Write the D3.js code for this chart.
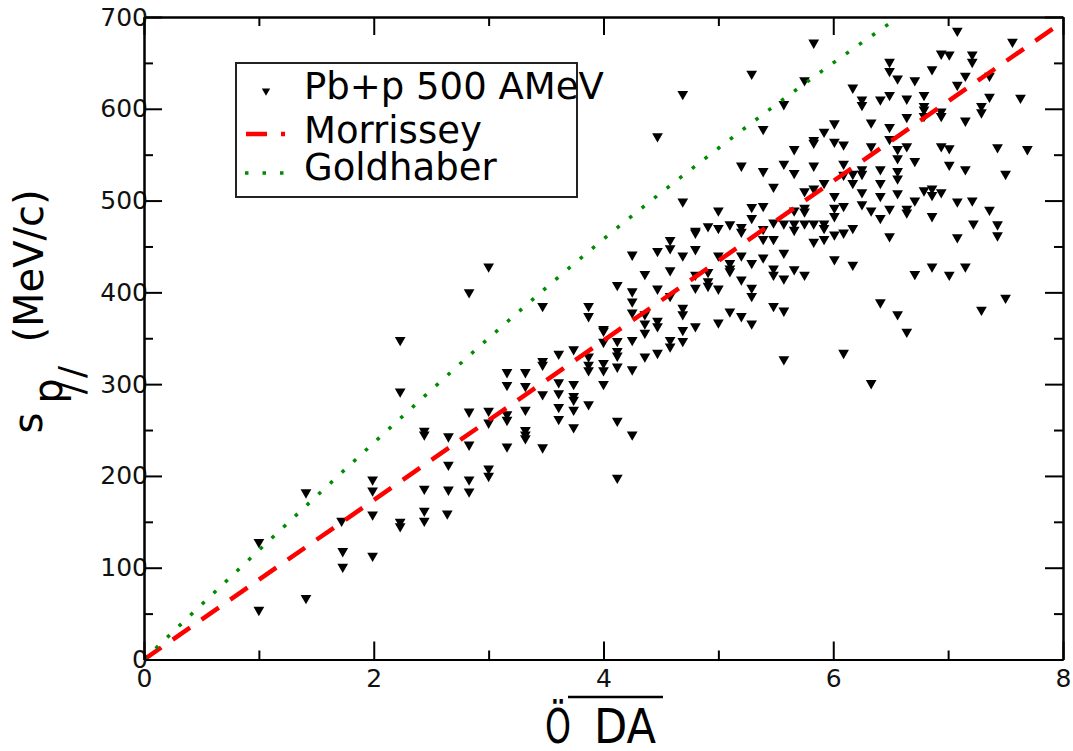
<!DOCTYPE html>
<html><head><meta charset="utf-8">
<script src="https://cdn.jsdelivr.net/npm/d3@7"></script>
<style>body{margin:0;background:#fff}svg{display:block}</style>
</head><body><svg id="c" width="1073" height="751"></svg>
<script>
// ---- data ----
const pointsX = [
2.23,2.23,2.44,2.44,1.41,1.99,1.99,2.44,1.72,1.99,2.23,2.23,2.44,2.44,1.0,1.73,1.73,1.99,1.41,1.0,2.64,
3.0,2.83,4.25,3.47,3.87,3.87,4.12,4.36,4.25,4.25,4.25,4.36,4.36,4.36,4.0,4.0,4.12,4.0,4.25,4.12,4.12,3.87,3.87,3.87,4.0,4.0,4.12,4.25,4.36,4.0,3.74,3.61,3.47,3.47,3.61,3.74,3.61,3.74,3.74,3.74,3.61,3.87,3.61,3.74,4.12,4.25,4.12,3.47,3.32,3.16,3.16,3.32,3.32,3.16,3.16,3.0,3.0,2.83,3.32,3.32,3.32,3.16,3.47,3.0,3.0,2.83,2.83,2.83,2.65,2.65,2.65,4.47,
7.08,5.83,7.56,6.94,7.01,7.21,7.21,6.49,6.49,6.86,5.29,6.56,6.71,7.15,7.36,7.08,5.75,4.69,6.17,6.49,6.79,6.25,6.25,6.41,6.64,7.36,7.63,5.57,6.79,6.79,7.29,7.29,6.94,6.94,6.79,6.64,6.33,7.15,6.01,5.92,5.39,4.47,6.49,5.83,5.83,6.01,6.09,5.66,6.33,6.49,6.56,6.56,6.64,6.94,7.01,7.43,7.69,6.71,7.01,7.15,7.5,5.2,5.39,5.57,5.66,5.83,6.09,6.09,6.17,6.17,6.25,6.25,6.41,6.56,6.56,6.41,5.92,5.48,4.69,5.75,5.83,6.01,6.25,6.41,6.56,6.79,6.86,6.86,6.94,6.71,7.08,7.21,7.36,5.0,5.29,5.29,5.39,5.66,5.75,5.75,6.01,6.01,6.09,6.25,6.33,6.41,6.49,6.64,6.64,6.86,7.22,7.43,7.43,7.08,6.49,6.17,6.09,6.01,5.92,5.92,5.83,5.75,5.66,5.66,5.57,5.48,5.39,5.2,5.2,5.1,5.0,4.91,4.8,4.8,5.83,5.92,5.48,5.39,4.58,4.58,4.47,4.69,4.8,5.0,5.1,5.1,5.1,5.2,5.29,5.39,5.57,4.58,4.91,4.91,4.91,4.8,4.8,5.0,5.2,5.29,5.29,5.48,5.48,5.57,5.66,5.75,4.47,4.47,4.47,4.58,4.69,4.69,4.69,4.69,4.58,4.58,4.8,5.0,5.1,5.2,5.29,5.48,5.57,6.01,6.17,6.41,6.56,6.64,6.71,6.86,7.01,7.15,7.29,7.5,
5.57,6.09,6.33];
const pointsY = [
348,292,249,245,182,196,184,186,151,158,150,145,162,151,128,118,101,113,67,54,159,
428,400,441,385,385,374,408,420,401,390,378,376,366,356,360,358,347,346,348,336,331,330,321,315,323,315,319,316,330,300,338,333,325,321,302,300,290,287,283,272,275,278,262,253,260,245,198,289,313,313,299,298,272,267,261,271,258,270,250,245,241,232,231,208,200,234,196,183,243,212,185,334,
685,672,673,660,659,659,651,651,641,643,638,633,631,636,636,626,631,616,623,615,615,610,604,610,611,613,612,605,603,599,603,596,597,592,592,591,585,587,584,575,578,570,580,566,563,564,561,556,559,567,556,546,559,559,557,558,556,543,539,534,529,538,532,540,530,538,540,528,529,519,534,529,534,532,524,519,519,515,499,510,513,505,509,505,508,511,513,506,509,500,499,500,490,489,493,481,494,489,492,488,492,483,494,496,489,481,491,491,487,483,475,474,462,460,461,470,465,463,475,470,475,475,475,468,475,476,469,471,466,474,470,472,467,465,455,458,458,458,457,448,445,440,447,440,432,426,423,440,432,438,443,424,422,412,407,419,405,404,414,405,396,426,419,415,425,419,404,369,363,396,383,376,359,347,348,341,363,367,379,374,366,385,380,436,430,389,376,357,420,428,419,428,381,394,
327,334,301];

const morrisseyX = [0, 8];
const morrisseyY = [0, 695];
const goldhaberX = [0, 1, 2, 3, 4, 5, 6, 6.57];
const goldhaberY = [0, 119, 236, 350, 458, 557, 650, 700];

const xMajorTicks = [0, 2, 4, 6, 8];
const xMinorTicks = [1, 3, 5, 7];
const yMajorTicks = [0, 100, 200, 300, 400, 500, 600, 700];
const yMinorTicks = [50, 150, 250, 350, 450, 550, 650];
const legendLabels = ["Pb+p 500 AMeV", "Morrissey", "Goldhaber"];

// ---- layout ----
const svg = d3.select("#c");
const L = 144, R = 1063, T = 17, B = 659.5;
const x = d3.scaleLinear().domain([0, 8]).range([L, R]);
const y = d3.scaleLinear().domain([0, 700]).range([B, T]);
const FONT = "DejaVu Sans, sans-serif";

svg.append("defs").append("clipPath").attr("id", "clip")
  .append("rect").attr("x", L).attr("y", T).attr("width", R - L).attr("height", B - T);

// points
const tri = d3.symbol(d3.symbolTriangle, 50);
const pts = d3.zip(pointsX, pointsY);
svg.append("g").selectAll("path").data(pts).join("path")
  .attr("d", tri)
  .attr("transform", d => `translate(${x(d[0])},${y(d[1])}) rotate(180)`)
  .attr("fill", "#000");

// curves
const plot = svg.append("g").attr("clip-path", "url(#clip)");
plot.append("path")
  .attr("d", d3.line().x(d => x(d[0])).y(d => y(d[1]))(d3.zip(morrisseyX, morrisseyY)))
  .attr("fill", "none").attr("stroke", "#ff0000").attr("stroke-width", 4.5)
  .attr("stroke-dasharray", "21,14");
plot.append("path")
  .attr("d", d3.line().curve(d3.curveMonotoneX).x(d => x(d[0])).y(d => y(d[1]))(d3.zip(goldhaberX, goldhaberY)))
  .attr("fill", "none").attr("stroke", "#008b00").attr("stroke-width", 3.5)
  .attr("stroke-dasharray", "3.5,12.5");

// axes
function styleAxis(g) {
  g.selectAll("line").attr("stroke", "#000").attr("stroke-width", 2);
  g.selectAll("path.domain").attr("stroke", "#000").attr("stroke-width", 2);
  g.selectAll("text").attr("font-family", FONT).attr("font-size", 25).attr("fill", "#111");
}
// bottom
svg.append("g").attr("transform", `translate(0,${B})`)
  .call(d3.axisBottom(x).tickValues(xMajorTicks).tickFormat(d3.format("d")).tickSizeInner(-18).tickSizeOuter(0).tickPadding(10))
  .call(styleAxis);
svg.append("g").attr("transform", `translate(0,${B})`)
  .call(d3.axisBottom(x).tickValues(xMinorTicks).tickFormat("").tickSizeInner(-9).tickSizeOuter(0))
  .call(styleAxis);
// top
svg.append("g").attr("transform", `translate(0,${T})`)
  .call(d3.axisTop(x).tickValues(xMajorTicks).tickFormat("").tickSizeInner(-18).tickSizeOuter(0))
  .call(styleAxis);
svg.append("g").attr("transform", `translate(0,${T})`)
  .call(d3.axisTop(x).tickValues(xMinorTicks).tickFormat("").tickSizeInner(-9).tickSizeOuter(0))
  .call(styleAxis);
// left
const gl = svg.append("g").attr("transform", `translate(${L},0)`)
  .call(d3.axisLeft(y).tickValues(yMajorTicks).tickFormat(d3.format("d")).tickSizeInner(-18).tickSizeOuter(0).tickPadding(-4))
  .call(styleAxis);
svg.append("g").attr("transform", `translate(${L},0)`)
  .call(d3.axisLeft(y).tickValues(yMinorTicks).tickFormat("").tickSizeInner(-9).tickSizeOuter(0))
  .call(styleAxis);
// right
svg.append("g").attr("transform", `translate(${R},0)`)
  .call(d3.axisRight(y).tickValues(yMajorTicks).tickFormat("").tickSizeInner(-18).tickSizeOuter(0))
  .call(styleAxis);
svg.append("g").attr("transform", `translate(${R},0)`)
  .call(d3.axisRight(y).tickValues(yMinorTicks).tickFormat("").tickSizeInner(-9).tickSizeOuter(0))
  .call(styleAxis);

// axis titles
const yt = svg.append("g").attr("font-family", FONT).attr("fill", "#000");
yt.append("text").attr("transform", "translate(42,423) rotate(-90)").attr("text-anchor", "middle")
  .attr("font-size", 40).text("s");
yt.append("text").attr("transform", "translate(62,391) rotate(-90)").attr("text-anchor", "middle")
  .attr("font-size", 40).text("p");
yt.append("text").attr("transform", "translate(84,378) rotate(-90)").attr("text-anchor", "middle")
  .attr("font-size", 36).attr("letter-spacing", 4).text("//");
yt.append("text").attr("transform", "translate(43,266) rotate(-90)").attr("text-anchor", "middle")
  .attr("font-size", 40).text("(MeV/c)");

const xt = svg.append("g").attr("font-family", FONT).attr("fill", "#000");
xt.append("text").attr("x", 545).attr("y", 743).attr("font-size", 48)
  .attr("textLength", 26).attr("lengthAdjust", "spacingAndGlyphs").text("Ö");
xt.append("text").attr("x", 594).attr("y", 743).attr("font-size", 48)
  .attr("textLength", 62).attr("lengthAdjust", "spacingAndGlyphs").text("DA");
xt.append("line").attr("x1", 568).attr("x2", 663).attr("y1", 697).attr("y2", 697)
  .attr("stroke", "#000").attr("stroke-width", 2.5);

// legend
const lg = svg.append("g");
lg.append("rect").attr("x", 236).attr("y", 63).attr("width", 341).attr("height", 134)
  .attr("fill", "none").attr("stroke", "#222").attr("stroke-width", 2);
lg.append("path").attr("d", d3.symbol(d3.symbolTriangle, 30))
  .attr("transform", "translate(266,91) rotate(180)").attr("fill", "#000");
lg.append("line").attr("x1", 246).attr("x2", 285).attr("y1", 134).attr("y2", 134)
  .attr("stroke", "#ff0000").attr("stroke-width", 4.5).attr("stroke-dasharray", "21,14");
lg.append("line").attr("x1", 245).attr("x2", 285).attr("y1", 173).attr("y2", 173)
  .attr("stroke", "#008b00").attr("stroke-width", 3.5).attr("stroke-dasharray", "3.5,14");
const baselines = [99, 143, 180];
lg.selectAll("text.lab").data(legendLabels).join("text").attr("class", "lab")
  .attr("x", 304).attr("y", (d, i) => baselines[i])
  .attr("font-family", FONT).attr("font-size", 37).attr("fill", "#000").text(d => d);
</script></body></html>
